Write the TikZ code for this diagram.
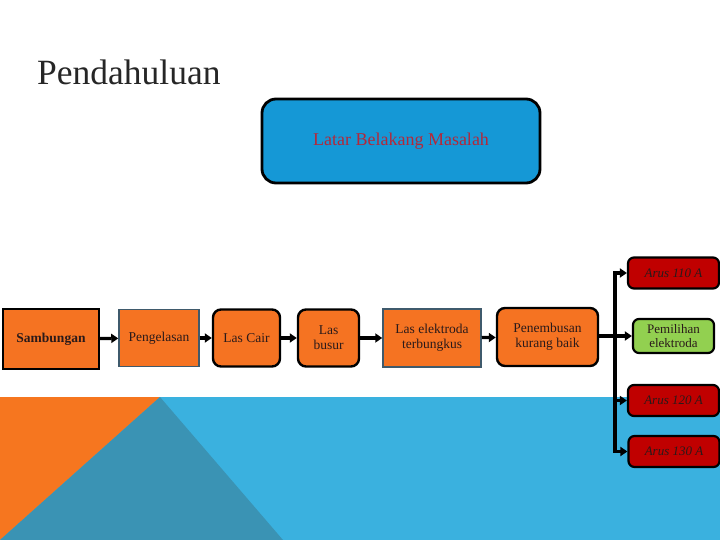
\documentclass[tikz,border=0pt]{standalone}
\usepackage{fontspec}
\setmainfont{Liberation Serif}
\usetikzlibrary{arrows.meta}
\definecolor{bandblue}{HTML}{3AB1DF}
\definecolor{bandteal}{HTML}{3A93B4}
\definecolor{bandorange}{HTML}{F6761F}
\definecolor{boxorange}{HTML}{F57322}
\definecolor{latarblue}{HTML}{1598D6}
\definecolor{latartext}{HTML}{B3283A}
\definecolor{slate}{HTML}{3F5A6C}
\definecolor{boxred}{HTML}{C00000}
\definecolor{boxgreen}{HTML}{92D050}
\definecolor{txtdark}{HTML}{2A1A1A}
\tikzset{
  base/.style={inner sep=1pt, align=center, text=txtdark, font=\fontsize{13.5}{15}\selectfont},
  sqblack/.style={base, draw=black, line width=2.4pt, fill=boxorange},
  sqslate/.style={base, draw=slate, line width=1.5pt, fill=boxorange},
  rnd/.style={base, draw=black, line width=2.4pt, fill=boxorange, rounded corners=8pt},
  arusbox/.style={base, draw=black, line width=2.2pt, fill=boxred, rounded corners=6pt,
     minimum width=91pt, minimum height=31pt, font=\fontsize{13}{15}\selectfont\itshape},
  arr/.style={line width=3.2pt, -{Triangle[length=7pt,width=9pt]}},
}
\begin{document}
\begin{tikzpicture}[x=1pt,y=-1pt]
\useasboundingbox (0,0) rectangle (720,540);
% background band
\fill[bandblue] (0,397) rectangle (720,540);
\fill[bandorange] (0,397) -- (160,397) -- (0,540) -- cycle;
\fill[bandteal] (160,397) -- (283,540) -- (0,540) -- cycle;
% title
\node[anchor=base west, inner sep=0pt, text=black!85, font=\fontsize{35.5}{40}\selectfont] (title) at (37,85) {Pendahuluan};
% Latar box
\node[draw=black, line width=2.8pt, fill=latarblue, rounded corners=14pt,
  minimum width=278pt, minimum height=84pt, text=latartext,
  font=\fontsize{18}{20}\selectfont] (latar) at (401,141) {Latar Belakang Masalah};
% main row
\node[sqblack, minimum width=96pt, minimum height=60pt, font=\fontsize{13.5}{15}\selectfont\bfseries] (samb) at (51,339) {Sambungan};
\node[sqslate, minimum width=80pt, minimum height=57pt] (peng) at (159,338) {Pengelasan};
\node[rnd, minimum width=67pt, minimum height=57pt] (cair) at (246.5,338) {Las Cair};
\node[rnd, minimum width=61pt, minimum height=57pt] (busur) at (328.5,338) {Las\\busur};
\node[sqslate, minimum width=98pt, minimum height=58pt] (elek) at (432,338) {Las elektroda\\terbungkus};
\node[rnd, minimum width=101pt, minimum height=58pt] (pen) at (547.5,337) {Penembusan\\kurang baik};
\node[base, draw=black, line width=2.2pt, fill=boxgreen, rounded corners=6pt,
  minimum width=81pt, minimum height=34pt, font=\fontsize{13}{14}\selectfont] (pem) at (673.5,336) {Pemilihan\\elektroda};
\node[arusbox] (a110) at (673.5,273) {Arus 110 A};
\node[arusbox] (a120) at (673.5,400.5) {Arus 120 A};
\node[arusbox] (a130) at (674,451.5) {Arus 130 A};
% connectors
\draw[arr] (samb) -- (peng);
\draw[arr] (peng) -- (cair);
\draw[arr] (cair) -- (busur);
\draw[arr] (busur) -- (elek);
\draw[arr] (elek) -- (pen);
\coordinate (bus) at (615,336);
\draw[arr] (pen.east |- bus) -- (pem.west |- bus);
\draw[arr] (bus) |- (a110.west);
\draw[arr] (bus) |- (a120.west);
\draw[arr] (bus) |- (a130.west);
\end{tikzpicture}
\end{document}
